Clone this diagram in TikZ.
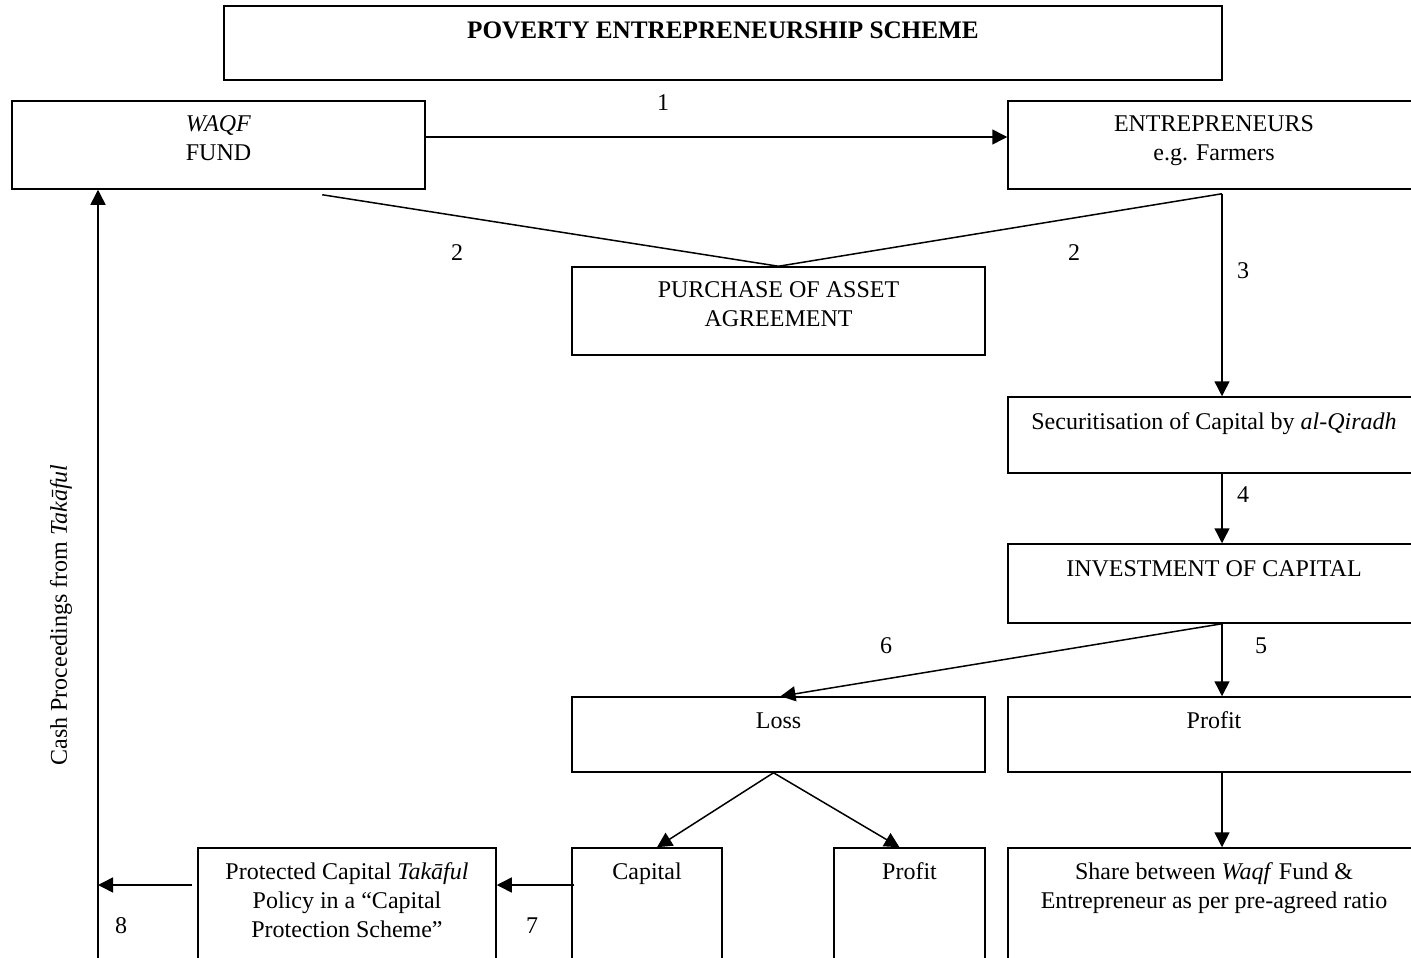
\documentclass[tikz,border=0pt]{standalone}
\usepackage{fontspec}
\setmainfont{Liberation Serif}
\usetikzlibrary{arrows.meta,calc}

\tikzset{
  box/.style={draw, line width=1.5pt, rectangle, inner sep=0pt},
  boxtext/.style={anchor=north, inner sep=0pt, align=center, font=\fontsize{24}{29}\selectfont},
  num/.style={inner sep=0pt, font=\fontsize{24}{29}\selectfont},
  flow/.style={line width=1.5pt, -{Triangle[length=15pt,width=15pt]}},
  plain/.style={line width=1.5pt},
}

\begin{document}
\begin{tikzpicture}[x=1pt,y=-1pt]
\useasboundingbox (0,0) rectangle (1411,958);
\clip (0,0) rectangle (1411,958);

% boxes
\node[box, minimum width=998, minimum height=74] (title) at (723,43) {};
\node[box, minimum width=413, minimum height=88] (waqf) at (218.5,145) {};
\node[box, minimum width=412, minimum height=88] (ent) at (1214,145) {};
\node[box, minimum width=413, minimum height=88] (purch) at (778.5,311) {};
\node[box, minimum width=412, minimum height=76] (secur) at (1214,435) {};
\node[box, minimum width=412, minimum height=79] (invest) at (1214,583.5) {};
\node[box, minimum width=413, minimum height=75] (loss) at (778.5,734.5) {};
\node[box, minimum width=412, minimum height=75] (profR) at (1214,734.5) {};
\node[box, minimum width=150, minimum height=132] (capital) at (647,914) {};
\node[box, minimum width=151, minimum height=132] (profL) at (909.5,914) {};
\node[box, minimum width=412, minimum height=132] (share) at (1214,914) {};
\node[box, minimum width=298, minimum height=132] (prot) at (347,914) {};

% box texts
\node[boxtext, font=\fontsize{25.2}{29}\selectfont] (titleT) at ($(title.north)+(0,16)$) {\textbf{POVERTY ENTREPRENEURSHIP SCHEME}};
\node[boxtext] (waqfT) at ($(waqf.north)+(0,15)$) {\textit{WAQF}\\FUND};
\node[boxtext] (entT) at ($(ent.north)+(0,15)$) {ENTREPRENEURS\\e.g. Farmers};
\node[boxtext] (purchT) at ($(purch.north)+(0,15)$) {PURCHASE OF ASSET\\AGREEMENT};
\node[boxtext] (securT) at ($(secur.north)+(0,16)$) {Securitisation of Capital by \textit{al-Qiradh}};
\node[boxtext] (investT) at ($(invest.north)+(0,17)$) {INVESTMENT OF CAPITAL};
\node[boxtext] (lossT) at ($(loss.north)+(0,16)$) {Loss};
\node[boxtext] (profRT) at ($(profR.north)+(0,15)$) {Profit};
\node[boxtext] (capitalT) at ($(capital.north)+(0,15)$) {Capital};
\node[boxtext] (profLT) at ($(profL.north)+(0,15)$) {Profit};
\node[boxtext] (shareT) at ($(share.north)+(0,15)$) {Share between \textit{Waqf} Fund \&\\Entrepreneur as per pre-agreed ratio};
\node[boxtext] (protT) at ($(prot.north)+(0,15)$) {Protected Capital \textit{Takāful}\\Policy in a “Capital\\Protection Scheme”};

% helper points for the return path on the left
\coordinate (retBot) at (98,980);
\coordinate (retMid) at (98,885);

% connectors
\draw[flow] ($(waqf.east)+(0,-8)$) -- ($(ent.west)+(0,-8)$);
\draw[plain] ($(waqf.south west)+(311,5)$) -- (purch.north);
\draw[plain] ($(ent.south)+(8,4)$) -- (purch.north);
\draw[flow] ($(ent.south)+(8,4)$) -- ($(secur.north)+(8,0)$);
\draw[flow] ($(secur.south)+(8,0)$) -- ($(invest.north)+(8,0)$);
\draw[flow] ($(invest.south)+(8,0)$) -- ($(profR.north)+(8,0)$);
\draw[flow] ($(invest.south)+(8,0)$) -- ($(loss.north)+(2,0)$);
\draw[flow] ($(profR.south)+(8,0)$) -- ($(share.north)+(8,0)$);
\draw[flow] ($(loss.south)+(-5,0)$) -- ($(capital.north)+(10,0)$);
\draw[flow] ($(loss.south)+(-5,0)$) -- ($(profL.north)+(-10,0)$);
\draw[flow] ($(capital.west)+(3,-29)$) -- ($(prot.east)+(0,-29)$);
\draw[flow] ($(prot.west)+(-5,-29)$) -- (retMid);
\draw[flow] (retBot) -- (retBot |- waqf.south);

% step numbers
\node[num] (n1) at (663,103) {1};
\node[num] (n2a) at (457,253) {2};
\node[num] (n2b) at (1074,253) {2};
\node[num] (n3) at (1243,271) {3};
\node[num] (n4) at (1243,495) {4};
\node[num] (n5) at (1261,646) {5};
\node[num] (n6) at (886,646) {6};
\node[num] (n7) at (532,926) {7};
\node[num] (n8) at (121,926) {8};

% label on the return path
\node[num, rotate=90] (cash) at (61,615) {Cash Proceedings from \textit{Takāful}};
\end{tikzpicture}
\end{document}
